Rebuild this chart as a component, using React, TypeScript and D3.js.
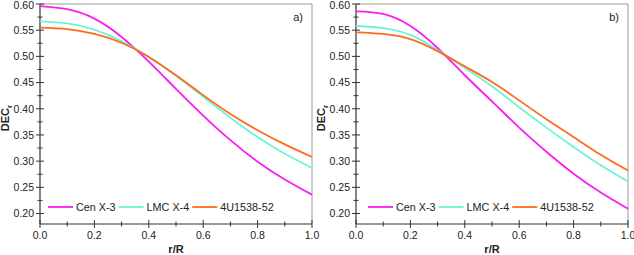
import React, { useEffect, useRef } from "react"
import * as d3 from "d3"

const xs = [0, 0.1, 0.2, 0.3, 0.4, 0.5, 0.6, 0.7, 0.8, 0.9, 1.0]

// panel a
const cenA = [0.596, 0.590, 0.572, 0.537, 0.490, 0.438, 0.387, 0.340, 0.299, 0.265, 0.236]
const lmcA = [0.567, 0.563, 0.551, 0.529, 0.499, 0.463, 0.423, 0.383, 0.346, 0.314, 0.287]
const u4A = [0.555, 0.552, 0.543, 0.526, 0.499, 0.464, 0.426, 0.390, 0.359, 0.332, 0.308]

// panel b
const cenB = [0.586, 0.581, 0.558, 0.516, 0.464, 0.414, 0.364, 0.318, 0.276, 0.240, 0.209]
const lmcB = [0.558, 0.554, 0.541, 0.512, 0.478, 0.443, 0.403, 0.364, 0.327, 0.292, 0.261]
const u4B = [0.546, 0.543, 0.533, 0.510, 0.481, 0.451, 0.416, 0.380, 0.346, 0.312, 0.282]

const names = ["Cen X-3", "LMC X-4", "4U1538-52"]
const colors = ["#f81ff0", "#6ff3d5", "#ff6a1c"]

const yTicks = [0.20, 0.25, 0.30, 0.35, 0.40, 0.45, 0.50, 0.55, 0.60]
const xTicks = [0, 0.2, 0.4, 0.6, 0.8, 1.0]

const FONT = "Liberation Sans, Arial, sans-serif"

function drawPanel(g: any, left: number, label: string, series: number[][], legendOff: number) {
  const x = d3.scaleLinear().domain([0, 1]).range([left, left + 272])
  const y = d3.scaleLinear().domain([0.18, 0.6]).range([224, 4])

  // frame top/right
  g.append("line").attr("x1", x(0)).attr("x2", x(1)).attr("y1", y(0.6)).attr("y2", y(0.6))
    .attr("stroke", "#9a9a9a").attr("stroke-width", 1)
  g.append("line").attr("x1", x(1)).attr("x2", x(1)).attr("y1", y(0.6)).attr("y2", y(0.18))
    .attr("stroke", "#9a9a9a").attr("stroke-width", 1)

  const ax = "#333"
  g.append("line").attr("x1", x(0)).attr("x2", x(0)).attr("y1", y(0.6)).attr("y2", y(0.18))
    .attr("stroke", ax).attr("stroke-width", 1.2)
  g.append("line").attr("x1", x(0)).attr("x2", x(1)).attr("y1", y(0.18)).attr("y2", y(0.18))
    .attr("stroke", ax).attr("stroke-width", 1.2)

  const yMinor = d3.range(0, 8).map(i => 0.225 + i * 0.05)
  yTicks.forEach(v => {
    g.append("line").attr("x1", x(0) - 4).attr("x2", x(0) + 4).attr("y1", y(v)).attr("y2", y(v))
      .attr("stroke", ax).attr("stroke-width", 1)
    g.append("text").attr("x", x(0) - 6).attr("y", Math.max(y(v) + 3.8, 8.6)).attr("text-anchor", "end")
      .attr("font-family", FONT).attr("font-size", 10.5).attr("fill", "#222")
      .text(d3.format(".2f")(v))
  })
  yMinor.forEach(v => {
    g.append("line").attr("x1", x(0) - 2.5).attr("x2", x(0) + 2.5).attr("y1", y(v)).attr("y2", y(v))
      .attr("stroke", ax).attr("stroke-width", 1)
  })
  xTicks.forEach(v => {
    g.append("line").attr("x1", x(v)).attr("x2", x(v)).attr("y1", y(0.18) - 4).attr("y2", y(0.18) + 4)
      .attr("stroke", ax).attr("stroke-width", 1)
    g.append("text").attr("x", x(v)).attr("y", 239).attr("text-anchor", "middle")
      .attr("font-family", FONT).attr("font-size", 10.5).attr("fill", "#222")
      .text(d3.format(".1f")(v))
  })
  ;[0.1, 0.3, 0.5, 0.7, 0.9].forEach(v => {
    g.append("line").attr("x1", x(v)).attr("x2", x(v)).attr("y1", y(0.18) - 2.5).attr("y2", y(0.18) + 2.5)
      .attr("stroke", ax).attr("stroke-width", 1)
  })

  // axis titles
  g.append("text").attr("x", (x(0) + x(1)) / 2).attr("y", 253).attr("text-anchor", "middle")
    .attr("font-family", FONT).attr("font-size", 11).attr("font-weight", "bold").attr("fill", "#222")
    .text("r/R")
  const yt = g.append("text").attr("transform", `translate(${left - 31.5},118) rotate(-90)`)
    .attr("text-anchor", "middle").attr("font-family", FONT).attr("font-size", 11)
    .attr("font-weight", "bold").attr("fill", "#222")
  yt.append("tspan").text("DEC")
  yt.append("tspan").attr("font-size", 8).attr("dy", 3).text("r")

  g.append("text").attr("x", x(1) - 9).attr("y", 21).attr("text-anchor", "end")
    .attr("font-family", FONT).attr("font-size", 11).attr("fill", "#222").text(label)

  const line = d3.line<number>().x((d, i) => x(xs[i])).y(d => y(d)).curve(d3.curveNatural)
  series.forEach((s, i) => {
    g.append("path").attr("d", line(s)).attr("fill", "none")
      .attr("stroke", colors[i]).attr("stroke-width", 1.8)
  })

  // legend
  let lx = x(0) + legendOff
  const ly = 207
  names.forEach((n, i) => {
    g.append("line").attr("x1", lx).attr("x2", lx + 25).attr("y1", ly).attr("y2", ly)
      .attr("stroke", colors[i]).attr("stroke-width", 1.8)
    const t = g.append("text").attr("x", lx + 28).attr("y", ly + 4)
      .attr("font-family", FONT).attr("font-size", 10.8).attr("fill", "#222").text(n)
    const w = (t.node() as SVGTextElement).getComputedTextLength()
    lx = lx + 28 + w + 3
  })
}

export default function App() {
  const ref = useRef<SVGSVGElement>(null)
  useEffect(() => {
    const svg = d3.select(ref.current)
    svg.selectAll("*").remove()
    drawPanel(svg.append("g"), 40, "a)", [cenA, lmcA, u4A], 8)
    drawPanel(svg.append("g"), 356, "b)", [cenB, lmcB, u4B], 12)
  }, [])
  return (
    <svg ref={ref} width={634} height={255}
      style={{ position: "absolute", left: 0, top: 0, background: "#fff" }} />
  )
}
